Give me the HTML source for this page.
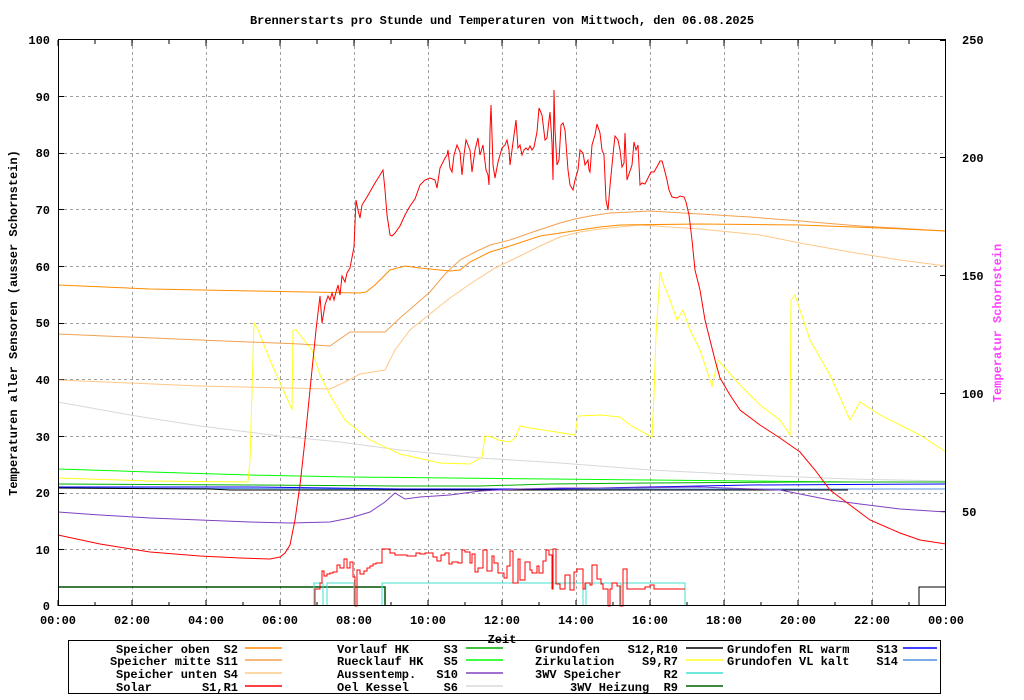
<!DOCTYPE html>
<html><head><meta charset="utf-8"><style>
html,body{margin:0;padding:0;background:#fff;}
svg{display:block;}
text{font-family:"Liberation Mono",monospace;font-size:12px;font-weight:bold;fill:#000;white-space:pre;}
</style></head><body>
<svg width="1024" height="700" viewBox="0 0 1024 700" xmlns="http://www.w3.org/2000/svg" xml:space="preserve">
<g stroke="#a0a0a0" stroke-dasharray="3,3" stroke-width="1">
<path d="M132.5 40V606M206.5 40V606M280.5 40V606M354.5 40V606M428.5 40V606M502.5 40V606M576.5 40V606M650.5 40V606M724.5 40V606M798.5 40V606M872.5 40V606"/>
<path d="M58 549.5H946M58 493.5H946M58 436.5H946M58 379.5H946M58 323.5H946M58 266.5H946M58 209.5H946M58 153.5H946M58 96.5H946"/>
</g>
<g stroke="#000" stroke-width="1">
<path d="M58 40v6M95 40v4M132 40v6M169 40v4M206 40v6M243 40v4M280 40v6M317 40v4M354 40v6M391 40v4M428 40v6M465 40v4M502 40v6M539 40v4M576 40v6M613 40v4M650 40v6M687 40v4M724 40v6M761 40v4M798 40v6M835 40v4M872 40v6M909 40v4"/>
<path d="M58 606v-6M95 606v-4M132 606v-6M169 606v-4M206 606v-6M243 606v-4M280 606v-6M317 606v-4M354 606v-6M391 606v-4M428 606v-6M465 606v-4M502 606v-6M539 606v-4M576 606v-6M613 606v-4M650 606v-6M687 606v-4M724 606v-6M761 606v-4M798 606v-6M835 606v-4M872 606v-6M909 606v-4"/>
<path d="M58 549.5h6M58 493.5h6M58 436.5h6M58 379.5h6M58 323.5h6M58 266.5h6M58 209.5h6M58 153.5h6M58 96.5h6"/>
<path d="M946 511.5h-6M946 393.5h-6M946 275.5h-6M946 157.5h-6M946 40.5h-6"/>
</g>
<g fill="none" stroke-width="1">
<polyline stroke="#d8d8d8" points="58,402 130,415 200,426 280,436 340,442 400,450 480,458 560,463 650,470 750,475 850,479 946,481"/>
<polyline stroke="#00ff00" points="58,469 150,472 250,475 350,477 450,478 550,479 650,480 750,481 850,482 946,482"/>
<polyline stroke="#00b000" points="58,484 250,485 400,486 480,486 550,484 650,483 800,482 946,482"/>
<polyline stroke="#5090e0" points="58,488 400,489 946,489"/>
<polyline stroke="#0000ff" points="58,487 250,487 330,488 400,489 550,489 650,487 750,485 946,484"/>
<polyline stroke="#000" points="58,488 210,489 230,490 400,490 500,490 600,490 848,490"/>
<polyline stroke="#8040c0" points="58,512 100,515 150,518 200,520 250,522 290,523 330,522 350,518 370,512 385,502 395,493 405,499 420,497 450,495 480,491 520,489 560,488 620,488 700,487 780,490 800,494 830,500 860,504 900,509 946,512"/>
<polyline stroke="#ffff20" points="58,478 150,481 248,482 250,460 254,323 258,330 270,360 290,405 292,410 293,330 296,330 300,335 312,350 320,375 330,395 345,420 370,440 400,454 440,463 470,464 482,457 485,436 492,437 498,440 510,442 515,438 520,426 530,428 550,431 575,435 578,416 600,415 620,417 630,425 652,437 654,395 656,335 660,272 664,285 670,300 677,320 683,310 690,330 700,350 712,386 718,360 725,368 740,385 760,405 780,420 790,435 791,300 795,295 800,310 810,340 830,375 850,420 860,402 880,415 900,425 920,435 946,452"/>
<polyline stroke="#ffc888" points="58,380 200,386 330,389 345,382 360,374 385,370 395,350 410,330 430,314 450,298 470,284 495,268 520,256 540,246 560,237 580,232 600,229 640,225 700,229 760,235 800,243 850,252 900,260 946,266"/>
<polyline stroke="#f4a050" points="58,334 200,340 300,344 330,346 350,332 385,332 400,318 415,305 430,292 445,274 460,260 475,252 490,245 510,240 530,233 545,228 560,223 575,219 590,216 610,213 650,211 700,214 750,217 800,221 860,226 946,231"/>
<polyline stroke="#ff8c00" points="58,285 150,289 253,291 360,293 366,292 375,285 390,270 405,266 420,268 450,271 460,270 470,262 490,252 510,246 540,236 560,233 580,230 600,227 620,225 700,224 800,225 880,228 946,231"/>
<polyline stroke="#ff0000" points="58,535 100,544 150,552 200,556 240,558 270,559 280,557 285,553 290,545 295,520 300,485 305,440 310,390 316,330 320,296 322,323 325,305 328,296 330,300 332,293 334,300 336,292 338,285 340,295 342,276 345,282 347,273 350,268 354,247 356,200 358,210 360,218 362,205 367,197 375,183 380,175 383,170 385,190 387,215 390,235 392,236 395,233 400,226 405,215 410,206 415,199 420,185 425,180 430,178 435,180 437,188 440,168 445,158 447,155 448,150 450,168 452,172 454,155 457,145 460,152 462,175 464,155 466,140 470,150 472,172 475,150 478,138 480,155 483,145 486,170 488,175 489,185 490,130 491,105 493,165 495,178 498,162 502,148 505,145 507,140 509,150 510,165 512,150 514,135 516,120 518,148 520,145 522,155 524,150 526,148 528,150 530,146 532,150 534,147 537,132 539,108 542,115 545,140 547,138 549,120 550,112 552,143 553,180 554,90 555,130 557,165 559,160 561,125 563,123 565,130 568,170 570,185 573,190 575,180 578,170 580,150 583,153 585,165 588,160 589,170 590,172 592,145 595,135 597,124 600,133 602,150 604,155 606,200 608,210 610,186 612,165 614,145 615,136 618,140 620,150 622,167 624,163 625,133 627,180 632,165 634,142 636,150 638,145 640,185 642,183 645,184 648,178 651,172 654,172 658,165 660,161 662,161 664,168 667,180 669,190 672,197 677,198 680,196 684,197 686,202 689,215 692,240 695,270 700,290 705,320 710,340 715,360 720,378 730,395 740,410 760,425 780,438 800,452 815,470 830,490 850,505 870,520 900,533 920,540 946,544"/>
<polyline stroke="#005000" stroke-width="1.5" points="58,587 385,587 385,606"/>
<path stroke="#40e0d0" d="M314 606V583H323V606M327 606V583H354V606M382 606V583H583V606M586 606V583H621V606M623 606V583H685V606"/>
<polyline stroke="#ff0000" points="315,606 315,589 320,589 320,583 322,583 322,571 324,571 324,576 327,576 327,574 330,574 330,573 333,573 333,572 337,572 337,565 340,565 340,568 344,568 344,559 347,559 347,568 350,568 350,562 353,562 353,577 355,577 355,606 357,606 357,570 360,570 360,574 364,574 364,571 367,571 367,568 370,568 370,566 373,566 373,564 376,564 376,563 382,563 382,549 390,549 390,553 395,553 395,555 407,555 407,556 416,556 416,553 420,553 420,554 425,554 425,553 433,553 433,557 437,557 437,561 441,561 441,555 445,555 445,553 449,553 449,564 452,564 452,562 458,562 458,563 462,563 462,550 465,550 465,552 470,552 470,563 472,563 472,554 475,554 475,572 478,572 478,568 483,568 483,550 487,550 487,571 492,571 492,556 494,556 494,563 498,563 498,573 504,573 504,578 507,578 507,566 510,566 510,551 513,551 513,583 518,583 518,559 520,559 520,580 525,580 525,562 530,562 530,570 532,570 532,573 537,573 537,566 539,566 539,573 543,573 543,561 546,561 546,550 549,550 549,555 552,555 552,589 553,589 553,549 556,549 556,584 560,584 560,589 565,589 565,575 570,575 570,590 574,590 574,572 577,572 577,569 583,569 583,589 585,589 585,583 590,583 590,585 592,585 592,565 597,565 597,579 601,579 601,584 603,584 603,589 608,589 608,606 610,606 610,589 612,589 612,583 617,583 617,586 620,586 620,606 623,606 623,569 627,569 627,589 645,589 645,587 650,587 650,585 654,585 654,589 685,589"/>
<polyline stroke="#000" points="919,606 919,587 946,587"/>
</g>
<rect x="58.5" y="39.5" width="887" height="566" fill="none" stroke="#000"/>
<text x="502" y="24" text-anchor="middle">Brennerstarts pro Stunde und Temperaturen von Mittwoch, den 06.08.2025</text>
<g text-anchor="end">
<text x="50" y="44">100</text><text x="50" y="101">90</text><text x="50" y="157">80</text><text x="50" y="214">70</text><text x="50" y="271">60</text><text x="50" y="327">50</text><text x="50" y="384">40</text><text x="50" y="441">30</text><text x="50" y="497">20</text><text x="50" y="554">10</text><text x="50" y="610">0</text>
</g>
<g>
<text x="962" y="44">250</text><text x="962" y="162">200</text><text x="962" y="280">150</text><text x="962" y="398">100</text><text x="962" y="516">50</text>
</g>
<g text-anchor="middle">
<text x="58" y="624">00:00</text><text x="132" y="624">02:00</text><text x="206" y="624">04:00</text><text x="280" y="624">06:00</text><text x="354" y="624">08:00</text><text x="428" y="624">10:00</text><text x="502" y="624">12:00</text><text x="576" y="624">14:00</text><text x="650" y="624">16:00</text><text x="724" y="624">18:00</text><text x="798" y="624">20:00</text><text x="872" y="624">22:00</text><text x="946" y="624">00:00</text>
<text x="502" y="643">Zeit</text>
</g>
<text transform="translate(17,323) rotate(-90)" text-anchor="middle">Temperaturen aller Sensoren (ausser Schornstein)</text>
<text transform="translate(1001,323) rotate(-90)" text-anchor="middle" style="fill:#ff40ff">Temperatur Schornstein</text>
<rect x="68.5" y="640.5" width="872" height="53" fill="none" stroke="#000"/>
<g>
<text x="116" y="653">Speicher oben</text><text x="238" y="653" text-anchor="end">S2</text>
<text x="110" y="665">Speicher mitte</text><text x="238" y="665" text-anchor="end">S11</text>
<text x="116" y="678">Speicher unten</text><text x="238" y="678" text-anchor="end">S4</text>
<text x="116" y="691">Solar</text><text x="238" y="691" text-anchor="end">S1,R1</text>
<text x="337" y="653">Vorlauf HK</text><text x="458" y="653" text-anchor="end">S3</text>
<text x="337" y="665">Ruecklauf HK</text><text x="458" y="665" text-anchor="end">S5</text>
<text x="337" y="678">Aussentemp.</text><text x="458" y="678" text-anchor="end">S10</text>
<text x="337" y="691">Oel Kessel</text><text x="458" y="691" text-anchor="end">S6</text>
<text x="535" y="653">Grundofen</text><text x="678" y="653" text-anchor="end">S12,R10</text>
<text x="535" y="665">Zirkulation</text><text x="678" y="665" text-anchor="end">S9,R7</text>
<text x="535" y="678">3WV Speicher</text><text x="678" y="678" text-anchor="end">R2</text>
<text x="570" y="691">3WV Heizung</text><text x="678" y="691" text-anchor="end">R9</text>
<text x="727" y="653">Grundofen RL warm</text><text x="898" y="653" text-anchor="end">S13</text>
<text x="727" y="665">Grundofen VL kalt</text><text x="898" y="665" text-anchor="end">S14</text>
</g>
<g stroke-width="1.5">
<path d="M245 648h37" stroke="#ff8c00"/><path d="M245 660h37" stroke="#f4a050"/><path d="M245 673h37" stroke="#ffc888"/><path d="M245 686h37" stroke="#ff0000"/>
<path d="M466 648h37" stroke="#00b000"/><path d="M466 660h37" stroke="#00ff00"/><path d="M466 673h37" stroke="#8040c0"/><path d="M466 686h37" stroke="#d8d8d8"/>
<path d="M686 648h37" stroke="#000"/><path d="M686 660h37" stroke="#ffff20"/><path d="M686 673h37" stroke="#40e0d0"/><path d="M686 686h37" stroke="#006000"/>
<path d="M903 648h34" stroke="#0000ff"/><path d="M903 660h34" stroke="#5090e0"/>
</g>
</svg>
</body></html>
